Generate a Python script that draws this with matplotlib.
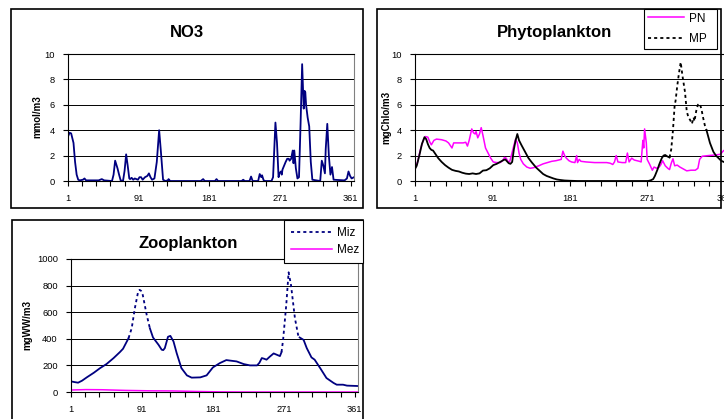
import numpy as np
import matplotlib
matplotlib.use('Agg')
import matplotlib.pyplot as plt
from matplotlib.lines import Line2D
from matplotlib.patches import Rectangle

plt.rcParams['font.family'] = ['Liberation Sans', 'DejaVu Sans']

# ---- data (day of year) ----
no3_days = [1, 3, 5, 8, 10, 12, 14, 16, 20, 22, 24, 40, 44, 47, 57, 59, 61, 63, 64,
            66, 68, 71, 73, 75, 77, 79, 80, 82, 84, 86, 90, 92, 94, 96, 99, 102, 104,
            106, 108, 111, 114, 117, 119, 122, 125, 128, 129, 131, 170, 173, 175, 188,
            190, 192, 222, 224, 226, 232, 234, 236, 243, 245, 247, 248, 250, 252, 260,
            262, 265, 267, 269, 270, 272, 273, 274, 276, 278, 280, 282, 283, 285, 287,
            288, 289, 291, 293, 295, 297, 299, 301, 302, 303, 304, 306, 308, 310, 312,
            322, 324, 326, 328, 329, 331, 333, 335, 337, 339, 353, 356, 358, 360, 362, 365]
no3_vals = [3.5, 3.8, 3.75, 3.0, 1.5, 0.5, 0.1, 0.05, 0.1, 0.2, 0.05, 0.05, 0.15, 0.05,
            0.0, 0.5, 1.6, 1.2, 1.0, 0.5, 0.05, 0.0, 0.8, 2.1, 1.2, 0.2, 0.15, 0.25, 0.1,
            0.2, 0.1, 0.3, 0.3, 0.1, 0.3, 0.4, 0.6, 0.3, 0.1, 0.2, 1.5, 4.0, 2.5, 0.1,
            0.0, 0.05, 0.15, 0.0, 0.0, 0.15, 0.0, 0.0, 0.15, 0.0, 0.0, 0.1, 0.0, 0.0,
            0.35, 0.0, 0.0, 0.55, 0.3, 0.45, 0.05, 0.0, 0.0, 0.3, 4.6, 3.0, 0.3, 0.6,
            0.75, 0.5, 0.9, 1.2, 1.5, 1.75, 1.75, 1.6, 1.75, 2.4, 1.4, 2.4, 1.0, 0.2,
            0.3, 4.5, 9.2, 5.7, 7.1, 7.0, 6.0, 5.0, 4.3, 1.5, 0.1, 0.0, 1.6, 1.2, 0.6,
            2.5, 4.5, 2.0, 0.5, 1.1, 0.1, 0.05, 0.2, 0.75, 0.4, 0.2, 0.3]

pn_days = [1, 4, 7, 10, 13, 16, 18, 20, 23, 26, 32, 37, 40, 42, 44, 46, 52, 57, 60, 62,
           64, 67, 69, 71, 72, 74, 76, 78, 80, 83, 86, 89, 92, 96, 100, 103, 105, 107,
           109, 111, 113, 116, 118, 120, 122, 124, 127, 131, 135, 139, 145, 150, 155,
           160, 165, 171, 173, 175, 177, 180, 183, 187, 189, 190, 192, 194, 200, 210,
           218, 224, 228, 231, 233, 235, 237, 242, 246, 248, 250, 253, 256, 262, 264,
           266, 267, 268, 270, 271, 274, 277, 279, 282, 285, 287, 289, 292, 295, 297,
           299, 301, 303, 306, 309, 313, 317, 322, 327, 330, 332, 335, 342, 350, 356,
           360, 365]
pn_vals = [1.0, 1.5, 2.4, 3.1, 3.5, 3.45, 3.1, 2.85, 3.2, 3.3, 3.25, 3.15, 3.0, 2.8,
           2.6, 3.0, 3.0, 3.0, 3.05, 2.75, 3.2, 4.1, 3.8, 3.7, 3.9, 3.4, 3.7, 4.2, 3.6,
           2.6, 2.2, 1.8, 1.5, 1.45, 1.45, 1.6, 1.85, 1.8, 1.55, 1.5, 2.0, 2.8, 3.3,
           3.0, 2.2, 1.7, 1.35, 1.1, 1.0, 1.05, 1.2, 1.35, 1.45, 1.55, 1.6, 1.7, 2.35,
           2.0, 1.8, 1.6, 1.5, 1.45, 2.0, 1.45, 1.7, 1.55, 1.5, 1.45, 1.45, 1.45, 1.4,
           1.3, 1.5, 2.0, 1.5, 1.45, 1.45, 2.2, 1.5, 1.8, 1.65, 1.55, 1.5, 3.2, 2.6,
           4.1, 3.0, 1.7, 1.3, 0.85, 1.1, 1.0, 1.1, 1.3, 1.6, 1.2, 1.0, 0.9, 1.4, 1.75,
           1.2, 1.25, 1.1, 0.95, 0.8, 0.85, 0.85, 1.0, 1.7, 1.95, 2.0, 2.05, 2.1, 2.4, 2.5]

mp_days = [1, 3, 6, 9, 12, 14, 16, 18, 20, 22, 25, 28, 32, 36, 40, 44, 48, 52, 56, 60,
           64, 68, 72, 76, 80, 84, 88, 92, 96, 100, 104, 106, 108, 110, 112, 114, 116,
           118, 120, 122, 125, 129, 133, 137, 142, 146, 150, 154, 158, 162, 166, 170,
           175, 181, 190, 272, 275, 278, 280, 283, 285, 288, 290, 292, 294, 297, 299,
           301, 303, 304, 306, 308, 310, 312, 315, 317, 319, 321, 323, 325, 326, 328,
           330, 332, 334, 336, 338, 340, 344, 348, 351, 354, 357, 360, 363, 365]
mp_vals = [0.95, 1.2, 2.0, 2.9, 3.45, 3.3, 2.9, 2.6, 2.45, 2.4, 2.1, 1.8, 1.5, 1.25,
           1.05, 0.88, 0.8, 0.75, 0.65, 0.58, 0.55, 0.6, 0.55, 0.6, 0.82, 0.85, 1.0,
           1.25, 1.35, 1.5, 1.65, 1.7, 1.55, 1.4, 1.35, 1.5, 2.5, 3.2, 3.7, 3.2, 2.8,
           2.3, 1.8, 1.45, 1.05, 0.8, 0.55, 0.4, 0.3, 0.2, 0.12, 0.08, 0.04, 0.02, 0.0,
           0.0, 0.05, 0.15, 0.4, 0.9, 1.3, 1.8, 2.0, 2.05, 1.95, 1.85, 2.5, 4.0, 6.0,
           6.3, 7.5, 8.5, 9.35, 8.3, 7.0, 5.5, 5.0, 4.8, 4.5, 5.0, 4.7, 5.5, 6.0, 6.1,
           5.7, 5.0, 4.4, 4.0, 3.0, 2.3, 2.0, 1.8, 1.6, 1.5, 1.5, 1.6]

miz_days = [1, 5, 10, 15, 21, 30, 38, 46, 55, 63, 67, 74, 78, 82, 86, 88, 90, 92, 97,
            101, 105, 112, 116, 118, 120, 124, 127, 131, 135, 141, 148, 154, 165, 173,
            181, 190, 198, 203, 211, 220, 228, 237, 240, 243, 246, 249, 253, 258, 262,
            266, 268, 270, 274, 277, 280, 285, 289, 291, 296, 300, 306, 310, 317, 325,
            334, 338, 346, 351, 365]
miz_vals = [80, 75, 70, 85, 110, 145, 180, 210, 255, 300, 325, 405, 480, 630, 750, 768,
            760, 730, 580, 480, 410, 355, 318, 315, 330, 415, 422, 380, 293, 180, 125,
            108, 110, 125, 185, 218, 240, 236, 230, 210, 200, 200, 220, 255, 250, 243,
            265, 290, 280, 270, 300, 392, 655, 900, 805, 555, 430, 410, 392, 330, 260,
            243, 180, 105, 68, 55, 55, 48, 45]

mez_days = [1, 20, 40, 70, 100, 130, 160, 190, 220, 365]
mez_vals = [15, 18, 17, 12, 9, 8, 4, 1, 0, 0]

xtick_labels = ['1', '91', '181', '271', '361']

NAVY = '#000080'
MAGENTA = '#FF00FF'
DASH = (0, (1.7, 1.7))
W, H = 724, 419


def fbox(x0, y0, x1, y1):
    return [x0 / W, 1 - y1 / H, (x1 - x0) / W, (y1 - y0) / H]


def setup(ax, ymax, ystep):
    ax.set_xlim(1, 365)
    ax.set_ylim(0, ymax)
    ax.set_yticks(np.arange(0, ymax + ystep / 2, ystep))
    ticks = np.arange(1, 366, 18)
    ax.set_xticks(ticks)
    ax.set_xticklabels([str(t) if str(t) in xtick_labels else '' for t in ticks])
    ax.grid(axis='y', color='black', lw=0.7)
    ax.set_axisbelow(True)
    ax.tick_params(direction='out', length=3.5, width=0.8, labelsize=6.7, pad=6,
                   color='black')
    for s in ['left', 'bottom', 'top']:
        ax.spines[s].set_color('black')
        ax.spines[s].set_linewidth(0.8)
    ax.spines['right'].set_color('#808080')
    ax.spines['right'].set_linewidth(0.8)


def plot_mixed(ax, d, v, color, spans):
    # Excel-style: dashed look only on the given day spans
    d = np.asarray(d)
    v = np.asarray(v)
    edges = [d[0]] + [x for s in spans for x in s] + [d[-1]]
    for i in range(len(edges) - 1):
        lo, hi = edges[i], edges[i + 1]
        m = (d >= lo) & (d <= hi)
        ax.plot(d[m], v[m], color=color, lw=1.3,
                ls=DASH if i % 2 else '-', solid_joinstyle='round')


fig = plt.figure(figsize=(7.24, 4.19), dpi=100)

# chart borders
for x0, y0, x1, y1 in [(11, 9, 363, 208), (377, 9, 721, 208), (12, 220, 363, 430)]:
    fig.add_artist(Rectangle((x0 / W, 1 - y1 / H), (x1 - x0) / W, (y1 - y0) / H,
                             transform=fig.transFigure, fill=False,
                             ec='black', lw=1.2))

# NO3
ax1 = fig.add_axes(fbox(68, 54, 354, 181))
setup(ax1, 10, 2)
ax1.plot(no3_days, no3_vals, color=NAVY, lw=1.3)
fig.text(187 / W, 1 - 36.7 / H, 'NO3', ha='center', va='baseline',
         fontsize=12, fontweight='bold')
fig.text(37 / W, 1 - 117 / H, 'mmol/m3', rotation=90, ha='center', va='center',
         fontsize=7, fontweight='bold')

# Phytoplankton
ax2 = fig.add_axes(fbox(415, 54, 728, 181))
setup(ax2, 10, 2)
ax2.plot(pn_days, pn_vals, color=MAGENTA, lw=1.1)
plot_mixed(ax2, mp_days, mp_vals, 'black', [(297, 340)])
fig.text(554 / W, 1 - 36.7 / H, 'Phytoplankton', ha='center', va='baseline',
         fontsize=12, fontweight='bold')
fig.text(386.5 / W, 1 - 117 / H, 'mgChlo/m3', rotation=90, ha='center',
         va='center', fontsize=7, fontweight='bold')

# Zooplankton
ax3 = fig.add_axes(fbox(71, 259, 358, 392))
setup(ax3, 1000, 200)
ax3.plot(mez_days, mez_vals, color=MAGENTA, lw=1.1)
plot_mixed(ax3, miz_days, miz_vals, NAVY, [(74, 101), (268, 291)])
fig.text(188 / W, 1 - 248.3 / H, 'Zooplankton', ha='center', va='baseline',
         fontsize=12, fontweight='bold')
fig.text(27.5 / W, 1 - 325 / H, 'mgWW/m3', rotation=90, ha='center', va='center',
         fontsize=7, fontweight='bold')

# legends
leg_kw = dict(loc='upper left', mode='expand', borderaxespad=0, fancybox=False,
              edgecolor='black', framealpha=1, fontsize=8.5, handletextpad=0.4)
h_pn = Line2D([], [], color=MAGENTA, lw=1.1)
h_mp = Line2D([], [], color='black', lw=1.3, ls=DASH)
leg1 = fig.legend([h_pn, h_mp], ['PN', 'MP'], bbox_to_anchor=fbox(644, 9, 717, 52),
                  handlelength=3.1, borderpad=0.3, labelspacing=0.75, **leg_kw)
leg1.get_frame().set_linewidth(0.8)

h_miz = Line2D([], [], color=NAVY, lw=1.3, ls=DASH)
h_mez = Line2D([], [], color=MAGENTA, lw=1.1)
leg2 = fig.legend([h_miz, h_mez], ['Miz', 'Mez'], bbox_to_anchor=fbox(284, 220, 363, 264),
                  handlelength=3.5, borderpad=0.6, labelspacing=0.45, **leg_kw)
leg2.get_frame().set_linewidth(0.8)

fig.savefig('out.png', dpi=100)
